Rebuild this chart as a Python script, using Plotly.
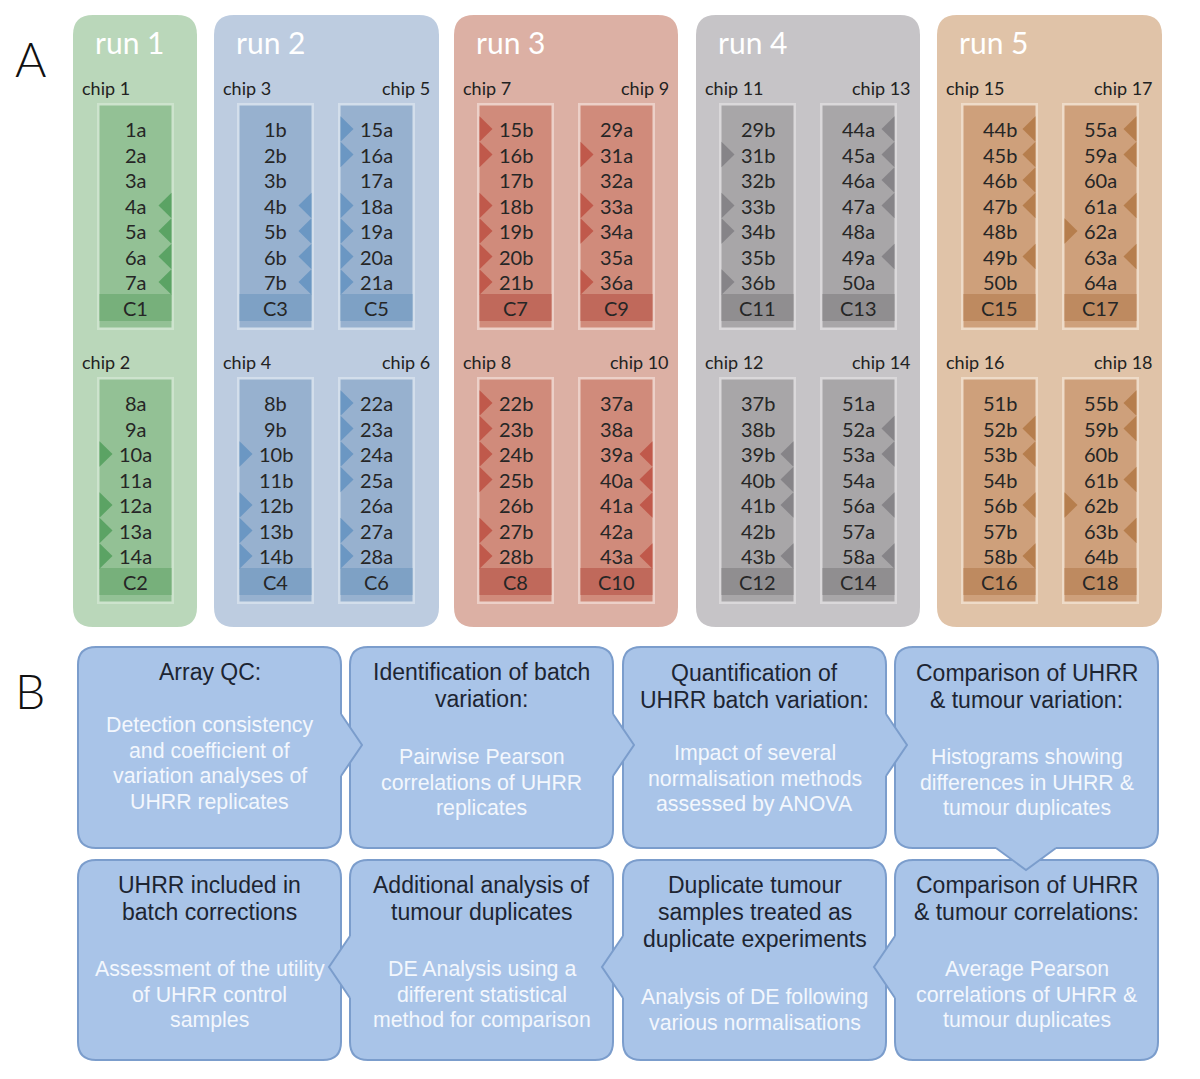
import plotly.graph_objects as go

# ---------------- data ----------------
RUN_LABELS = ["run 1", "run 2", "run 3", "run 4", "run 5"]
TOP_CHIPS = [["chip 1"], ["chip 3", "chip 5"], ["chip 7", "chip 9"],
             ["chip 11", "chip 13"], ["chip 15", "chip 17"]]
BOTTOM_CHIPS = [["chip 2"], ["chip 4", "chip 6"], ["chip 8", "chip 10"],
                ["chip 12", "chip 14"], ["chip 16", "chip 18"]]

CHIP_SAMPLES = {
    "chip 1": ["1a", "2a", "3a", "4a", "5a", "6a", "7a", "C1"],
    "chip 2": ["8a", "9a", "10a", "11a", "12a", "13a", "14a", "C2"],
    "chip 3": ["1b", "2b", "3b", "4b", "5b", "6b", "7b", "C3"],
    "chip 4": ["8b", "9b", "10b", "11b", "12b", "13b", "14b", "C4"],
    "chip 5": ["15a", "16a", "17a", "18a", "19a", "20a", "21a", "C5"],
    "chip 6": ["22a", "23a", "24a", "25a", "26a", "27a", "28a", "C6"],
    "chip 7": ["15b", "16b", "17b", "18b", "19b", "20b", "21b", "C7"],
    "chip 8": ["22b", "23b", "24b", "25b", "26b", "27b", "28b", "C8"],
    "chip 9": ["29a", "31a", "32a", "33a", "34a", "35a", "36a", "C9"],
    "chip 10": ["37a", "38a", "39a", "40a", "41a", "42a", "43a", "C10"],
    "chip 11": ["29b", "31b", "32b", "33b", "34b", "35b", "36b", "C11"],
    "chip 12": ["37b", "38b", "39b", "40b", "41b", "42b", "43b", "C12"],
    "chip 13": ["44a", "45a", "46a", "47a", "48a", "49a", "50a", "C13"],
    "chip 14": ["51a", "52a", "53a", "54a", "56a", "57a", "58a", "C14"],
    "chip 15": ["44b", "45b", "46b", "47b", "48b", "49b", "50b", "C15"],
    "chip 16": ["51b", "52b", "53b", "54b", "56b", "57b", "58b", "C16"],
    "chip 17": ["55a", "59a", "60a", "61a", "62a", "63a", "64a", "C17"],
    "chip 18": ["55b", "59b", "60b", "61b", "62b", "63b", "64b", "C18"],
}
# L = marker on left side (pointing right), R = marker on right side (pointing left)
CHIP_MARKS = {
    "chip 1": "...RRRR", "chip 2": "..L.LLL",
    "chip 3": "...RRRR", "chip 4": "..L.LLL",
    "chip 5": "LL.LLLL", "chip 6": "LLLL.LL",
    "chip 7": "LL.LLLL", "chip 8": "LLLL.LL",
    "chip 9": ".L.LL.L", "chip 10": "..RRR.R",
    "chip 11": ".L.LL.L", "chip 12": "..RRR.R",
    "chip 13": "RRRR.R.", "chip 14": ".RR.R.R",
    "chip 15": "RRRR.R.", "chip 16": ".RR.R.R",
    "chip 17": "RR.RLR.", "chip 18": "RR.RLR.",
}

# panel B boxes, listed left-to-right, top row then bottom row
STEP_HEADERS = [
    ["Array QC:"],
    ["Identification of batch", "variation:"],
    ["Quantification of", "UHRR batch variation:"],
    ["Comparison of UHRR", "& tumour variation:"],
    ["UHRR included in", "batch corrections"],
    ["Additional analysis of", "tumour duplicates"],
    ["Duplicate tumour", "samples treated as", "duplicate experiments"],
    ["Comparison of UHRR", "& tumour correlations:"],
]
STEP_BODIES = [
    ["Detection consistency", "and coefficient of", "variation analyses of", "UHRR replicates"],
    ["Pairwise Pearson", "correlations of UHRR", "replicates"],
    ["Impact of several", "normalisation methods", "assessed by ANOVA"],
    ["Histograms showing", "differences in UHRR &", "tumour duplicates"],
    ["Assessment of the utility", "of UHRR control", "samples"],
    ["DE Analysis using a", "different statistical", "method for comparison"],
    ["Analysis of DE following", "various normalisations"],
    ["Average Pearson", "correlations of UHRR &", "tumour duplicates"],
]

# ---------------- layout / style ----------------
W, H = 1200, 1079
CHIP_FONT = "Lato, 'Open Sans', sans-serif"
B_FONT = "'Liberation Sans', Arial, sans-serif"

RUN_COLORS = [
    dict(bg="#bad7ba", border="#cde3cd", fill="#93c195", band="#77b07b", tri="#5ba364"),
    dict(bg="#bdcce0", border="#d3deeb", fill="#97b1cf", band="#7ea1c5", tri="#6b97c3"),
    dict(bg="#dcb0a4", border="#ecd0c8", fill="#d08b7b", band="#c0695b", tri="#c0594b"),
    dict(bg="#c6c4c7", border="#dad8da", fill="#a8a6a8", band="#908e90", tri="#868488"),
    dict(bg="#e0c3a8", border="#eedbc8", fill="#cea07b", band="#be8a60", tri="#b67e4d"),
]
PANEL_X = [(73, 197), (214, 439), (454, 678), (696, 920), (937, 1162)]
PANEL_TOP, PANEL_BOTTOM = 15, 627
COL_LEFT = [[97], [237, 338], [477, 578], [719, 820], [961, 1062]]
CHIP_W = 77
ROW0 = [129, 403]
STEP = 25.5
BOX_TOP = [103, 377]
BOX_H = 227
LABEL_Y = [88, 362]

B_BOX_X = [(78, 341), (350, 613), (623, 886), (895, 1158)]
B_BOX_Y = [(647, 848), (860, 1060)]
B_FILL = "#a9c4e8"
B_LINE = "#7b9dcc"
HEADER_Y = [672, 672, 673, 673, 885, 885, 885, 885]
BODY_Y = [725, 757, 753, 757, 969, 969, 997, 969]


def rrect(x0, y0, x1, y1, r):
    return (f"M{x0+r},{y0} L{x1-r},{y0} Q{x1},{y0} {x1},{y0+r} L{x1},{y1-r} "
            f"Q{x1},{y1} {x1-r},{y1} L{x0+r},{y1} Q{x0},{y1} {x0},{y1-r} "
            f"L{x0},{y0+r} Q{x0},{y0} {x0+r},{y0} Z")


shapes = []
annotations = []


def add_text(x, y, text, size, color, font=CHIP_FONT, xanchor="center", weight=None):
    f = dict(family=font, size=size, color=color)
    if weight:
        f["weight"] = weight
    annotations.append(dict(x=x, y=y, xref="x", yref="y", text=text, showarrow=False,
                            xanchor=xanchor, yanchor="middle", font=f))


# ---------------- panel A ----------------
for ri, run in enumerate(RUN_LABELS):
    c = RUN_COLORS[ri]
    px0, px1 = PANEL_X[ri]
    shapes.append(dict(type="path", path=rrect(px0, PANEL_TOP, px1, PANEL_BOTTOM, 20),
                       fillcolor=c["bg"], line=dict(width=0), layer="below"))
    add_text(px0 + 20, 42, run, 30, "white", xanchor="left")
    for level, chips in enumerate([TOP_CHIPS[ri], BOTTOM_CHIPS[ri]]):
        for ci, chip in enumerate(chips):
            x0 = COL_LEFT[ri][ci]
            x1 = x0 + CHIP_W
            y0 = BOX_TOP[level]
            y1 = y0 + BOX_H
            if ci == 0:
                add_text(px0 + 7, LABEL_Y[level], chip, 18, "#222222", xanchor="left")
            else:
                add_text(px1 - 7, LABEL_Y[level], chip, 18, "#222222", xanchor="right")
            shapes.append(dict(type="rect", x0=x0, x1=x1, y0=y0, y1=y1,
                               fillcolor=c["border"], line=dict(width=0)))
            ix0, ix1 = x0 + 2.5, x1 - 2.5
            shapes.append(dict(type="rect", x0=ix0, x1=ix1, y0=y0 + 2.5, y1=y1 - 2.5,
                               fillcolor=c["fill"], line=dict(width=0)))
            samples = CHIP_SAMPLES[chip]
            yc_ctrl = ROW0[level] + STEP * 7
            shapes.append(dict(type="rect", x0=ix0, x1=ix1, y0=yc_ctrl - 13.5,
                               y1=yc_ctrl + 13.5, fillcolor=c["band"], line=dict(width=0)))
            for si, s in enumerate(samples):
                yc = ROW0[level] + STEP * si
                if si < 7:
                    m = CHIP_MARKS[chip][si]
                    h = STEP / 2
                    if m == "L":
                        p = f"M{ix0},{yc-h} L{ix0+13},{yc} L{ix0},{yc+h} Z"
                    elif m == "R":
                        p = f"M{ix1},{yc-h} L{ix1-13},{yc} L{ix1},{yc+h} Z"
                    else:
                        p = None
                    if p:
                        shapes.append(dict(type="path", path=p, fillcolor=c["tri"],
                                           line=dict(width=0)))
                add_text((x0 + x1) / 2, yc, s, 20, "#262626")

add_text(30, 58, "A", 48, "#111111", weight=300)
add_text(30, 690, "B", 48, "#111111", weight=300)

# ---------------- panel B ----------------
for bi in range(8):
    row = bi // 4
    col = bi % 4
    x0, x1 = B_BOX_X[col]
    y0, y1 = B_BOX_Y[row]
    shapes.append(dict(type="path", path=rrect(x0, y0, x1, y1, 18), fillcolor=B_FILL,
                       line=dict(color=B_LINE, width=2)))

# arrows (drawn after boxes)
arrow_defs = []
ay1 = 745
for col in range(3):
    arrow_defs.append(("right", B_BOX_X[col][1], ay1))
arrow_defs.append(("down", 1026, B_BOX_Y[0][1]))
ay2 = 967
for col in range(1, 4):
    arrow_defs.append(("left", B_BOX_X[col][0], ay2))

for kind, bx, by in arrow_defs:
    if kind == "right":
        fillp = f"M{bx-3},{by-31} L{bx},{by-31} L{bx+21},{by} L{bx},{by+31} L{bx-3},{by+31} Z"
        linep = f"M{bx},{by-31} L{bx+21},{by} L{bx},{by+31}"
    elif kind == "left":
        fillp = f"M{bx+3},{by-31} L{bx},{by-31} L{bx-21},{by} L{bx},{by+31} L{bx+3},{by+31} Z"
        linep = f"M{bx},{by-31} L{bx-21},{by} L{bx},{by+31}"
    else:
        fillp = f"M{bx-30},{by-3} L{bx-30},{by} L{bx},{by+22} L{bx+30},{by} L{bx+30},{by-3} Z"
        linep = f"M{bx-30},{by} L{bx},{by+22} L{bx+30},{by}"
    shapes.append(dict(type="path", path=fillp, fillcolor=B_FILL, line=dict(width=0)))
    shapes.append(dict(type="path", path=linep, line=dict(color=B_LINE, width=2)))

for bi in range(8):
    col = bi % 4
    cx = (B_BOX_X[col][0] + B_BOX_X[col][1]) / 2
    for li, line in enumerate(STEP_HEADERS[bi]):
        add_text(cx, HEADER_Y[bi] + 27 * li, line, 23, "#1d2532", font=B_FONT)
    for li, line in enumerate(STEP_BODIES[bi]):
        add_text(cx, BODY_Y[bi] + 25.5 * li, line, 21.3, "#f3f7fd", font=B_FONT)

fig = go.Figure()
fig.add_trace(go.Scatter(x=[0, W], y=[0, H], mode="markers",
                         marker=dict(opacity=0), hoverinfo="skip", showlegend=False))
fig.update_layout(
    width=W, height=H, margin=dict(l=0, r=0, t=0, b=0),
    paper_bgcolor="white", plot_bgcolor="white",
    xaxis=dict(range=[0, W], visible=False, fixedrange=True),
    yaxis=dict(range=[H, 0], visible=False, fixedrange=True),
    shapes=shapes, annotations=annotations, showlegend=False,
)
fig.write_html("out.html", config={"displayModeBar": False},
               post_script="document.body.style.margin='0';document.body.style.overflow='hidden';")
